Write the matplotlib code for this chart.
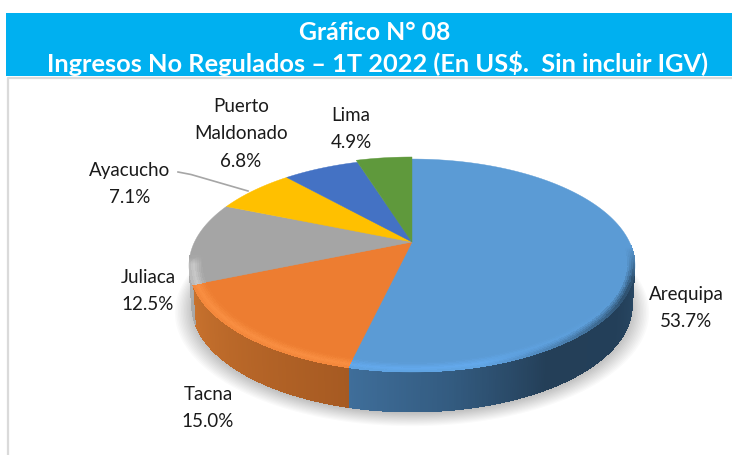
import numpy as np
import matplotlib
matplotlib.use("Agg")
import matplotlib.pyplot as plt
from matplotlib.collections import PolyCollection
from matplotlib.colors import to_rgb

title_lines = ["Gráfico N° 08", "Ingresos No Regulados – 1T 2022 (En US$.  Sin incluir IGV)"]
categories = ["Arequipa", "Tacna", "Juliaca", "Ayacucho", "Puerto\nMaldonado", "Lima"]
shares = [53.7, 15.0, 12.5, 7.1, 6.8, 4.9]
colors = ["#5B9BD5", "#ED7D31", "#A5A5A5", "#FFC000", "#4472C4", "#5F993C"]
label_xy = [(686, 308), (208, 408), (148, 291), (130, 184), (241, 134), (351, 129)]

plt.rcParams["font.family"] = ["Lato", "DejaVu Sans"]
fig = plt.figure(figsize=(7.32, 4.56), dpi=100)
ax = fig.add_axes([0, 0, 1, 1])
ax.set_xlim(0, 732)
ax.set_ylim(456, 0)
ax.axis("off")

# frame and banner
ax.fill_between([6.5, 732], 78, 456, color="white", lw=0, zorder=0)
ax.plot([7.5, 7.5, 732], [456, 78.5, 78.5], color="#DADADA", lw=1.6, zorder=1)
ax.fill_between([6, 732], 14, 77, color="#00B0F0", lw=0, zorder=2)
ax.text(375, 32, title_lines[0], color="white", fontsize=17.8, fontweight="bold",
        ha="center", va="center", zorder=3)
ax.text(377.5, 63, title_lines[1], color="white", fontsize=18.25, fontweight="bold",
        ha="center", va="center", zorder=3)

# projection of the pie disc, tilted with perspective
CX, CY, BX, A, K, D = 412.0, 243.0, 217.5, 101.3, 0.2207, 40.0


def proj(r, th):
    t = np.radians(th)
    u, v = r * np.sin(t), r * np.cos(t)
    w = 1 + K * v
    return CX + BX * u / w, CY - A * v / w


def side(r, th, s):
    x, y = proj(r, th)
    return CX + (x - CX) * (1 - 0.012 * s), y + D * s


def mix(a, b, f):
    a, b = np.array(to_rgb(a)), np.array(to_rgb(b))
    return tuple(a + (b - a) * np.clip(f, 0, 1))


def lerp_keys(keys, th):
    ks = sorted(keys)
    xs = [k[0] for k in ks]
    return tuple(np.interp(th, xs, [to_rgb(k[1])[i] for k in ks]) for i in range(3))


edges = np.concatenate([[0], np.cumsum(shares)]) * 3.6

# soft shadow
ths = np.linspace(0, 360, 240)
for r in np.linspace(1.06, 0.95, 18):
    x, y = proj(r, ths)
    ax.fill(x, y + D + 4, color="black", alpha=0.02, lw=0, zorder=4)

# side wall
side_keys = [
    [(edges[1], "#3F6E9A"), (172, "#335B80"), (150, "#243F58"), (125, "#233F59"), (100, "#2A4A66")],
    [(edges[2], "#C8722E"), (edges[1], "#A65A22")],
    [(edges[3], "#B8B8B8"), (edges[2], "#A8A8A8")],
]
polys, cols = [], []
for i, keys in enumerate(side_keys):
    lo = 100 if i == 0 else edges[i]
    hi = edges[i + 1] if i < 2 else 262
    grid = np.linspace(lo, hi, int((hi - lo) * 2) + 2)
    for a0, a1 in zip(grid[:-1], grid[1:]):
        polys.append([side(1, a0, 0), side(1, a1 + 0.4, 0), side(1, a1 + 0.4, 1), side(1, a0, 1)])
        cols.append(lerp_keys(keys, (a0 + a1) / 2))
ax.add_collection(PolyCollection(polys, facecolors=cols, edgecolors="none", antialiaseds=False, zorder=5))

# top face: each slice is drawn from the shares
for i, col in enumerate(colors):
    grid = np.linspace(edges[i], edges[i + 1], 120)
    rad = 1.03 if categories[i] == "Lima" else 1.0
    x, y = proj(rad, grid)
    ax.fill(np.r_[CX, x], np.r_[CY, y], color=col, lw=0.3, zorder=6)

# bevel along the front rim
polys, cols = [], []
radii = np.linspace(0.945, 1.0, 8)
for i, base, hi_col in [(0, colors[0], "#63A9EC"), (1, colors[1], "#F98F42"), (2, colors[2], "#C9C9C9")]:
    lo = 92 if i == 0 else edges[i]
    top = edges[i + 1] if i < 2 else 262
    grid = np.linspace(lo, top, int((top - lo) * 2) + 2)
    for a0, a1 in zip(grid[:-1], grid[1:]):
        am = (a0 + a1) / 2
        dark = np.clip((165 - am) / 45, 0, 1) * np.clip((am - 93) / 17, 0, 1) if i == 0 else 0
        fade = np.clip((am - 258) / 4, 0, 1) if i == 2 else 0
        for r0, r1 in zip(radii[:-1], radii[1:]):
            rm = (r0 + r1) / 2
            f = 1 - abs(rm - 0.982) / 0.037
            hi_f = f * (1 - np.clip((165 - am) / 45, 0, 1)) if i == 0 else f
            c = mix(base, hi_col, hi_f)
            if dark > 0:
                d = np.clip((rm - 0.965) / 0.035, 0, 1)
                c = mix(c, "#2A4A66", d * dark)
            c = mix(c, base, fade)
            polys.append([proj(r0, a0), proj(r0, a1 + 0.4), proj(r1, a1 + 0.4), proj(r1, a0)])
            cols.append(c)
ax.add_collection(PolyCollection(polys, facecolors=cols, edgecolors="none", antialiaseds=False, zorder=7))

# leader line for Ayacucho
ax.plot([178, 191, 248], [173, 175.5, 192], color="#A6A6A6", lw=1.2, zorder=8)

# data labels
for name, val, (lx, ly) in zip(categories, shares, label_xy):
    ax.text(lx, ly, f"{name}\n{val:.1f}%", color="#1A1A1A", fontsize=13.5, ha="center",
            va="center", linespacing=1.72, zorder=9)

fig.savefig("out.png", dpi=100)
